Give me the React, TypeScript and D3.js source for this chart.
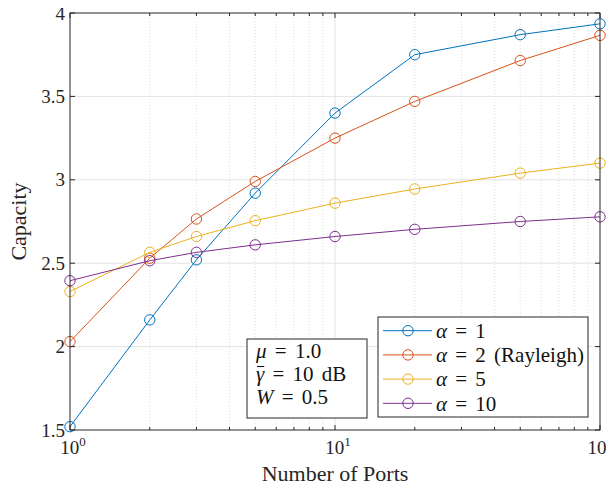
import React, { useRef, useEffect } from 'react';
import * as d3 from 'd3';

const ports = [1, 2, 3, 5, 10, 20, 50, 100];
const alpha1 = [1.52, 2.16, 2.52, 2.92, 3.40, 3.75, 3.87, 3.935];
const alpha2 = [2.03, 2.53, 2.765, 2.99, 3.25, 3.47, 3.715, 3.866];
const alpha5 = [2.33, 2.565, 2.66, 2.755, 2.86, 2.945, 3.04, 3.10];
const alpha10 = [2.395, 2.515, 2.565, 2.61, 2.66, 2.703, 2.75, 2.778];
const seriesNames = ['1', '2 (Rayleigh)', '5', '10'];
const seriesColors = ['#0072BD', '#D95319', '#EDB120', '#7E2F8E'];
const yTicks = [1.5, 2, 2.5, 3, 3.5, 4];
const xMajor = [1, 10, 100];

const App = () => {
  const svgRef = useRef<SVGSVGElement>(null);

  useEffect(() => {
    const width = 614;
    const height = 489;
    const m = { left: 70, right: 14, top: 13, bottom: 59 };
    const font = 'Liberation Serif';

    const svg = d3.select(svgRef.current);
    svg.selectAll('*').remove();
    svg.attr('width', width).attr('height', height).attr('font-family', font);

    const x = d3.scaleLog().domain([1, 100]).range([m.left, width - m.right]);
    const y = d3.scaleLinear().domain([1.5, 4]).range([height - m.bottom, m.top]);
    const [x0, x1] = x.range();
    const [y0, y1] = y.range();

    svg.append('rect').attr('width', width).attr('height', height).attr('fill', '#fff');

    // minor grid (dotted)
    const minor: number[] = [];
    [1, 10].forEach(d => { for (let k = 2; k <= 9; k++) minor.push(d * k); });
    svg.append('g').selectAll('line').data(minor).join('line')
      .attr('x1', d => x(d)).attr('x2', d => x(d))
      .attr('y1', y0).attr('y2', y1)
      .attr('stroke', '#d6d6d6').attr('stroke-width', 0.8).attr('stroke-dasharray', '1,2');

    // major grid
    svg.append('g').selectAll('line').data(yTicks.slice(1, -1)).join('line')
      .attr('x1', x0).attr('x2', x1)
      .attr('y1', d => y(d)).attr('y2', d => y(d))
      .attr('stroke', '#e3e3e3').attr('stroke-width', 1);
    svg.append('g').selectAll('line').data([10]).join('line')
      .attr('x1', d => x(d)).attr('x2', d => x(d))
      .attr('y1', y0).attr('y2', y1)
      .attr('stroke', '#e3e3e3').attr('stroke-width', 1);

    // series
    const all = [alpha1, alpha2, alpha5, alpha10];
    const line = d3.line<number>().x((_, i) => x(ports[i])).y(d => y(d));
    all.forEach((vals, si) => {
      const g = svg.append('g');
      g.append('path').attr('d', line(vals)).attr('fill', 'none')
        .attr('stroke', seriesColors[si]).attr('stroke-width', 1);
      g.selectAll('circle').data(vals).join('circle')
        .attr('cx', (_, i) => x(ports[i])).attr('cy', d => y(d)).attr('r', 5.2)
        .attr('fill', 'none').attr('stroke', seriesColors[si]).attr('stroke-width', 1);
    });

    // axes box and ticks
    const axisColor = '#262626';
    svg.append('rect').attr('x', x0).attr('y', y1).attr('width', x1 - x0).attr('height', y0 - y1)
      .attr('fill', 'none').attr('stroke', axisColor).attr('stroke-width', 1);

    const tk = svg.append('g').attr('stroke', axisColor).attr('stroke-width', 1);
    yTicks.forEach(t => {
      tk.append('line').attr('x1', x0).attr('x2', x0 + 5).attr('y1', y(t)).attr('y2', y(t));
      tk.append('line').attr('x1', x1).attr('x2', x1 - 5).attr('y1', y(t)).attr('y2', y(t));
    });
    xMajor.forEach(t => {
      tk.append('line').attr('x1', x(t)).attr('x2', x(t)).attr('y1', y0).attr('y2', y0 - 5);
      tk.append('line').attr('x1', x(t)).attr('x2', x(t)).attr('y1', y1).attr('y2', y1 + 5);
    });
    minor.forEach(t => {
      tk.append('line').attr('x1', x(t)).attr('x2', x(t)).attr('y1', y0).attr('y2', y0 - 3);
      tk.append('line').attr('x1', x(t)).attr('x2', x(t)).attr('y1', y1).attr('y2', y1 + 3);
    });

    // tick labels
    svg.append('g').selectAll('text').data(yTicks).join('text')
      .attr('x', x0 - 5).attr('y', d => y(d)).attr('dy', '0.35em')
      .attr('text-anchor', 'end').attr('font-size', 19).attr('fill', axisColor)
      .text(d => d3.format('')(d));

    const xl = svg.append('g');
    xMajor.forEach((t, i) => {
      const last = i === xMajor.length - 1;
      const txt = xl.append('text').attr('x', last ? width - 1 : x(t) + 3).attr('y', y0 + 24)
        .attr('text-anchor', last ? 'end' : 'middle').attr('font-size', 19).attr('fill', axisColor);
      txt.append('tspan').text('10');
      txt.append('tspan').attr('dy', -8).attr('font-size', 13).text(String(Math.round(Math.log10(t))));
    });

    svg.append('text').attr('x', (x0 + x1) / 2).attr('y', height - 8)
      .attr('text-anchor', 'middle').attr('font-size', 22).attr('fill', axisColor)
      .text('Number of Ports');
    svg.append('text').attr('transform', `translate(26,${(y0 + y1) / 2}) rotate(-90)`)
      .attr('text-anchor', 'middle').attr('font-size', 22).attr('fill', axisColor)
      .text('Capacity');

    // annotation box
    const ann = svg.append('g');
    ann.append('rect').attr('x', 247).attr('y', 339).attr('width', 120).attr('height', 79)
      .attr('fill', '#fff').attr('stroke', axisColor).attr('stroke-width', 1);
    const annLines: [string, string][] = [['μ', ' = 1.0'], ['γ', ' = 10 dB'], ['W', ' = 0.5']];
    const annBase = [357.5, 381, 404];
    annLines.forEach(([v, rest], i) => {
      const ty = annBase[i];
      const t = ann.append('text').attr('x', 256).attr('y', ty)
        .attr('font-size', 21).attr('fill', '#111').style('word-spacing', '3px');
      const vs = t.append('tspan').attr('font-style', 'italic').text(v);
      t.append('tspan').text(rest);
      if (v === 'γ') {
        const w = (vs.node() as SVGTextContentElement).getComputedTextLength();
        ann.append('line').attr('x1', 257).attr('x2', 256 + w).attr('y1', ty - 14.5).attr('y2', ty - 14.5)
          .attr('stroke', '#111').attr('stroke-width', 1.1);
      }
    });

    // legend
    const lg = svg.append('g');
    lg.append('rect').attr('x', 378).attr('y', 317).attr('width', 210).attr('height', 100)
      .attr('fill', '#fff').attr('stroke', axisColor).attr('stroke-width', 1);
    seriesNames.forEach((name, i) => {
      const ly = 330.7 + i * 24.2;
      lg.append('line').attr('x1', 383).attr('x2', 432).attr('y1', ly).attr('y2', ly)
        .attr('stroke', seriesColors[i]).attr('stroke-width', 1);
      lg.append('circle').attr('cx', 408).attr('cy', ly).attr('r', 5.2)
        .attr('fill', 'none').attr('stroke', seriesColors[i]).attr('stroke-width', 1);
      const t = lg.append('text').attr('x', 436).attr('y', ly).attr('dy', '0.35em')
        .attr('font-size', 21).attr('fill', '#111').style('word-spacing', '3px');
      t.append('tspan').attr('font-style', 'italic').text('α');
      t.append('tspan').text(' = ' + name);
    });
  }, []);

  return <svg ref={svgRef} style={{ display: 'block', margin: -8 }} />;
};

export default App;
